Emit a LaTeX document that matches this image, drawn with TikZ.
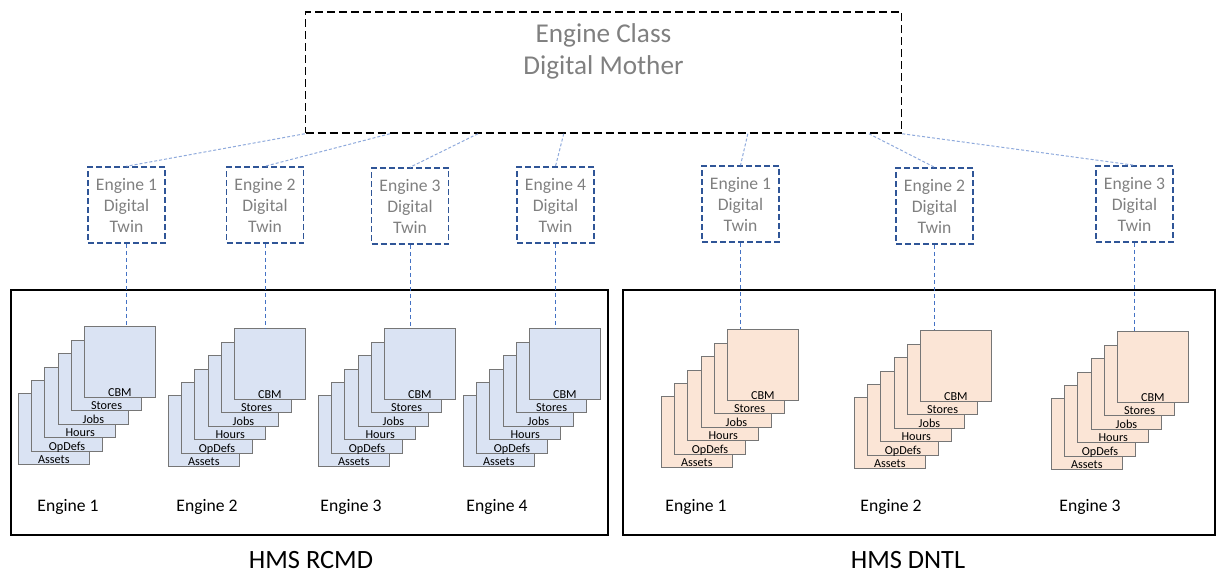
\documentclass[tikz,border=0pt]{standalone}
\usepackage{fontspec}
\setmainfont{Carlito}
\usetikzlibrary{positioning}

\definecolor{twinblue}{HTML}{2F5597}
\definecolor{linkblue}{HTML}{8FAADC}
\definecolor{dropblue}{HTML}{4472C4}
\definecolor{rcmdfill}{HTML}{DAE3F3}
\definecolor{dntlfill}{HTML}{FBE5D6}
\definecolor{cardedge}{HTML}{767676}
\definecolor{softtext}{HTML}{808080}

% one engine's pile of data cards: name, x, y of the back card, fill
\newcommand{\enginestack}[4]{%
  \foreach \lab [count=\i from 0] in {Assets,OpDefs,Hours,Jobs,Stores,CBM}
    \node[card, fill=#4, label={[cardlabel]south:\lab}] (#1-\i) at (#2+13.2*\i, #3-13.4*\i) {};
}

\begin{document}
\begin{tikzpicture}[x=0.5pt, y=-0.5pt,
    motherbox/.style={draw=black, line width=0.75pt, dash pattern=on 4pt off 2pt,
      minimum width=298pt, minimum height=60.5pt, inner sep=0pt},
    mothertext/.style={anchor=north, align=center, text=softtext,
      font=\fontsize{13.6}{16}\selectfont, inner sep=6pt},
    twinbox/.style={draw=twinblue, line width=0.75pt, dash pattern=on 3pt off 1.5pt,
      minimum width=38.5pt, minimum height=38pt, inner sep=0pt, align=center,
      text=softtext, font=\fontsize{8.8}{10.5}\selectfont},
    link/.style={linkblue, line width=0.5pt, dash pattern=on 1.5pt off 1pt},
    drop/.style={dropblue, line width=0.4pt, dash pattern=on 2pt off 1.5pt},
    card/.style={draw=cardedge, line width=0.5pt, anchor=south west,
      minimum size=35.3pt, inner sep=0pt},
    cardlabel/.style={anchor=base, yshift=0.8pt, inner sep=0pt,
      font=\fontsize{6.1}{7}\selectfont},
    groupbox/.style={draw=black, line width=0.75pt, inner sep=0pt},
    enginelabel/.style={font=\fontsize{8.8}{10.5}\selectfont},
    sitelabel/.style={font=\fontsize{13.2}{16}\selectfont}]

  \useasboundingbox (0,0) rectangle (1216,574);

  % Sites
  \node[groupbox, minimum width=298.5pt, minimum height=122.5pt] (rcmd) at (309.5,412.5) {};
  \node[groupbox, minimum width=296pt, minimum height=122.5pt] (dntl) at (919,412.5) {};
  \node[sitelabel] (rcmdname) at (311,560) {HMS RCMD};
  \node[sitelabel] (dntlname) at (908,560) {HMS DNTL};

  % Digital mother
  \node[motherbox, label={[mothertext]north:Engine Class\\Digital Mother}] (mother) at (603.5,72.5) {};

  % Digital twins
  \node[twinbox] (r1) at (126.5,205) {Engine 1\\Digital\\Twin};
  \node[twinbox] (r2) at (265,205) {Engine 2\\Digital\\Twin};
  \node[twinbox] (r3) at (410,206) {Engine 3\\Digital\\Twin};
  \node[twinbox] (r4) at (555.5,205) {Engine 4\\Digital\\Twin};
  \node[twinbox] (d1) at (740.5,204) {Engine 1\\Digital\\Twin};
  \node[twinbox] (d2) at (934.5,206) {Engine 2\\Digital\\Twin};
  \node[twinbox] (d3) at (1134.5,204) {Engine 3\\Digital\\Twin};

  % Mother to twins
  \draw[link] (mother.south west) -- (r1.north);
  \draw[link] (mother.-164.7) -- (r2.north);
  \draw[link] (mother.-154.8) -- (r3.north);
  \draw[link] (mother.-123.2) -- (r4.north);
  \draw[link] (mother.-23.9) -- (d1.north);
  \draw[link] (mother.-13.8) -- (d2.north);
  \draw[link] (mother.south east) -- (d3.north);

  % Engine data
  \enginestack{s1}{18}{465}{rcmdfill}
  \enginestack{s2}{168}{467}{rcmdfill}
  \enginestack{s3}{318}{467}{rcmdfill}
  \enginestack{s4}{463}{467}{rcmdfill}
  \enginestack{t1}{661}{468}{dntlfill}
  \enginestack{t2}{854}{469}{dntlfill}
  \enginestack{t3}{1051}{470}{dntlfill}

  % Twins to engine data
  \draw[drop] (r1.south) -- (r1.south |- s1-5.north);
  \draw[drop] (r2.south) -- (r2.south |- s2-5.north);
  \draw[drop] (r3.south) -- (r3.south |- s3-5.north);
  \draw[drop] (r4.south) -- (r4.south |- s4-5.north);
  \draw[drop] (d1.south) -- (d1.south |- t1-5.north);
  \draw[drop] (d2.south) -- (d2.south |- t2-5.north);
  \draw[drop] (d3.south) -- (d3.south |- t3-5.north);

  % Engine names
  \node[enginelabel] (s1name) at (68,507) {Engine 1};
  \node[enginelabel] (s2name) at (207,507) {Engine 2};
  \node[enginelabel] (s3name) at (351,507) {Engine 3};
  \node[enginelabel] (s4name) at (497,507) {Engine 4};
  \node[enginelabel] (t1name) at (696,507) {Engine 1};
  \node[enginelabel] (t2name) at (891,507) {Engine 2};
  \node[enginelabel] (t3name) at (1090,507) {Engine 3};

\end{tikzpicture}
\end{document}
